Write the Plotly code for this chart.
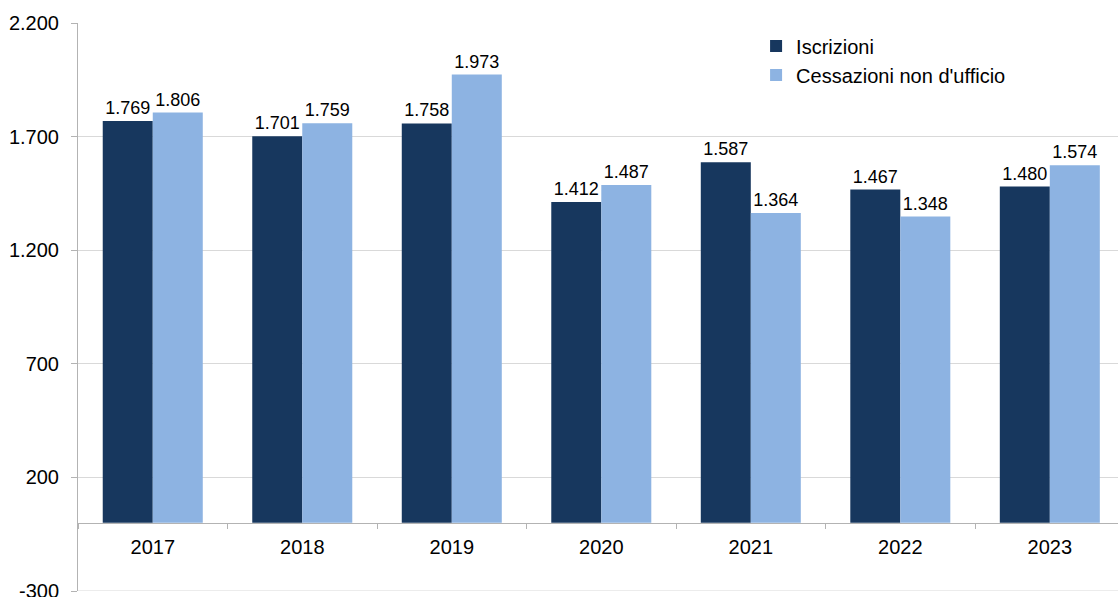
import plotly.graph_objects as go

years = ["2017", "2018", "2019", "2020", "2021", "2022", "2023"]
iscrizioni = [1769, 1701, 1758, 1412, 1587, 1467, 1480]
cessazioni = [1806, 1759, 1973, 1487, 1364, 1348, 1574]
y_tick_values = [-300, 200, 700, 1200, 1700, 2200]
y_tick_labels = ["-300", "200", "700", "1.200", "1.700", "2.200"]

DARK = "#17375e"
LIGHT = "#8db3e2"
FONT = "Liberation Sans, Arial, sans-serif"
Y_MIN, Y_MAX = y_tick_values[0], y_tick_values[-1]

fig = go.Figure()
fig.add_trace(go.Bar(
    x=years, y=iscrizioni, name="Iscrizioni",
    marker=dict(color=DARK, line=dict(width=0)),
    texttemplate="%{y:,d}", textposition="outside",
    textfont=dict(size=18, color="#000000", family=FONT),
    cliponaxis=False,
))
fig.add_trace(go.Bar(
    x=years, y=cessazioni, name="Cessazioni non d'ufficio",
    marker=dict(color=LIGHT, line=dict(width=0)),
    texttemplate="%{y:,d}", textposition="outside",
    textfont=dict(size=18, color="#000000", family=FONT),
    cliponaxis=False,
))

# bottom gridline (plotly hides the grid line at the range end)
fig.add_shape(type="line", xref="paper", yref="y", x0=0, x1=1,
              y0=Y_MIN, y1=Y_MIN, line=dict(color="#d9d9d9", width=1),
              layer="below")

fig.update_layout(
    width=1118, height=597, autosize=False,
    margin=dict(l=78, r=0, t=23, b=6, autoexpand=False),
    paper_bgcolor="white", plot_bgcolor="white",
    separators=",.",
    barmode="group", bargap=0.331, bargroupgap=0,
    font=dict(family=FONT, size=20, color="#000000"),
    showlegend=True,
    legend=dict(
        x=0.652, y=0.994, xanchor="left", yanchor="top",
        bgcolor="rgba(0,0,0,0)", font=dict(size=20, family=FONT),
        itemwidth=30, tracegroupgap=0,
    ),
    yaxis=dict(
        range=[Y_MIN, Y_MAX],
        tickmode="array", tickvals=y_tick_values, ticktext=y_tick_labels,
        showgrid=True, gridcolor="#d9d9d9", gridwidth=1,
        zeroline=False,
        showline=True, linecolor="#b3b3b3", linewidth=1,
        ticks="outside", ticklen=6, tickcolor="#b3b3b3",
        ticklabelstandoff=8, automargin=False,
        ticklabeloverflow="allow",
        tickfont=dict(size=20, family=FONT),
    ),
    xaxis=dict(
        type="category",
        range=[-0.5, 6.456],
        anchor="free", position=0.12,
        showline=True, linecolor="#b3b3b3", linewidth=1,
        ticks="outside", ticklen=5, tickcolor="#b3b3b3",
        tickson="boundaries",
        showgrid=False,
        ticklabelstandoff=6, automargin=False,
        tickfont=dict(size=20, family=FONT),
    ),
)

fig.write_html(
    "out.html",
    config={"displayModeBar": False},
    post_script="document.body.style.margin='0';document.body.style.overflow='hidden';",
)
